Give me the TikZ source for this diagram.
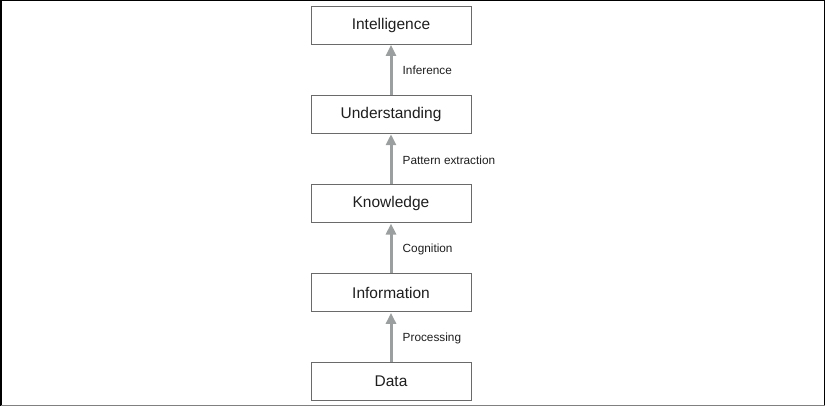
\documentclass[tikz,border=0pt]{standalone}
\usepackage{fontspec}
\setmainfont{Liberation Sans}
\usetikzlibrary{arrows.meta}
\definecolor{boxline}{HTML}{6A6A6A}
\definecolor{arrowgrey}{HTML}{9C9F9F}
\definecolor{txt}{HTML}{1E1E1E}
\tikzset{
  x=1pt, y=-1pt,
  stage/.style={draw=boxline, line width=0.9pt, minimum width=160pt, minimum height=38pt,
    inner sep=0pt, text=txt, font=\fontsize{15.5}{18}\selectfont},
  flow/.style={draw=arrowgrey, line width=3pt, -{Triangle[width=10pt,length=11pt]}, shorten >=0.5pt},
  steplabel/.style={text=txt, font=\fontsize{11.8}{14}\selectfont, anchor=west, inner sep=0pt}
}
\begin{document}
\begin{tikzpicture}
\useasboundingbox (0,0) rectangle (825,406);
\draw[line width=1.5pt, black] (0.75,406) -- (0.75,0.75) -- (824.25,0.75) -- (824.25,406);
\draw[line width=1.2pt, gray] (1,405.4) -- (825,405.4);
\node[stage] (intel) at (391,25) {Intelligence};
\node[stage] (under) at (391,114.3) {Understanding};
\node[stage] (know) at (391,203.6) {Knowledge};
\node[stage] (info) at (391,292.9) {Information};
\node[stage] (data) at (391,381.3) {Data};
\draw[flow] (under.north) -- (intel.south);
\draw[flow] (know.north) -- (under.south);
\draw[flow] (info.north) -- (know.south);
\draw[flow] (data.north) -- (info.south);
\node[steplabel] (l1) at (402.5,70.5) {Inference};
\node[steplabel] (l2) at (402.5,159.8) {Pattern extraction};
\node[steplabel] (l3) at (402.5,249.3) {Cognition};
\node[steplabel] (l4) at (402.5,338.3) {Processing};
\end{tikzpicture}
\end{document}
